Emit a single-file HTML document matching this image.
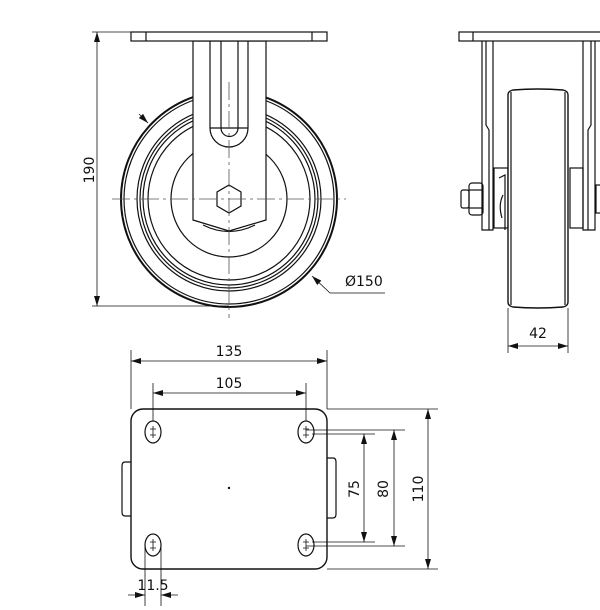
<!DOCTYPE html>
<html><head><style>body{margin:0;background:#fff}svg{display:block}text{font-family:"DejaVu Sans","Liberation Sans",sans-serif;font-size:14px;fill:#111}</style></head>
<body>
<svg width="600" height="610" viewBox="0 0 600 610" xmlns="http://www.w3.org/2000/svg">
<defs>
<marker id="a" viewBox="0 0 10 6" refX="10" refY="3" markerWidth="10" markerHeight="6" orient="auto-start-reverse" markerUnits="userSpaceOnUse"><path d="M0,0L10,3L0,6z" fill="#111"/></marker>
</defs>
<g fill="none" stroke="#111" stroke-width="1.2">
<!-- FRONT VIEW -->
<circle cx="229" cy="199" r="108" stroke-width="2"/>
<circle cx="229" cy="199" r="105"/>
<circle cx="229" cy="199" r="92"/>
<circle cx="229" cy="199" r="89"/>
<circle cx="229" cy="199" r="86"/>
<circle cx="229" cy="199" r="81"/>
<circle cx="229" cy="199" r="58"/>
<path d="M203,225 Q229,238 255,225" />
<path d="M193,41 V220 L229,231 L266,220 V41 Z" fill="#fff"/>
<path d="M210,41 V128 A19,19 0 0 0 248,128 V41"/>
<path d="M221,41 V128 A8.5,8.5 0 0 0 238,128 V41"/>
<line x1="210" y1="128" x2="248" y2="128"/>
<polygon points="229,185 241,192 241,206 229,213 217,206 217,192" fill="#fff"/>
<rect x="131" y="32" width="196" height="9" fill="#fff"/>
<line x1="146" y1="32" x2="146" y2="41"/><line x1="312" y1="32" x2="312" y2="41"/>
<g stroke="#555" stroke-width="0.8" stroke-dasharray="18,4,3,4">
<line x1="112" y1="199" x2="346" y2="199"/>
<line x1="229" y1="82" x2="229" y2="318"/>
</g>
<!-- 190 dim -->
<g stroke-width="0.8">
<line x1="92" y1="32" x2="131" y2="32"/><line x1="92" y1="306" x2="229" y2="306"/>
<line x1="97" y1="32" x2="97" y2="306" marker-start="url(#a)" marker-end="url(#a)"/>
<line x1="139" y1="114" x2="148" y2="123" marker-end="url(#a)"/>
<polyline points="385,293 330,293 312,276" marker-end="url(#a)"/>
</g>
<!-- SIDE VIEW -->
<rect x="459" y="32" width="145" height="9"/>
<line x1="473" y1="32" x2="473" y2="41"/>
<path d="M482,41 V230 H493 V41"/>
<path d="M486,41 V125 L489,130 V230"/>
<path d="M595,41 V230 H583 V41"/>
<path d="M591,41 V125 L588,130 V230"/>
<rect x="494" y="168" width="14" height="60"/>
<rect x="570" y="168" width="13" height="60"/>
<path d="M499,178 L505,175 V230 M503,195 Q498,205 502,218"/>
<rect x="469" y="183" width="14" height="32" rx="3"/>
<line x1="469" y1="190" x2="483" y2="190"/><line x1="469" y1="208" x2="483" y2="208"/>
<rect x="461" y="190" width="8" height="18" rx="2"/>
<rect x="596" y="185" width="8" height="28"/>
<path d="M508,95 Q508,91 513,90 Q538,88 563,90 Q568,91 568,95 V302 Q568,306 563,307 Q538,309 513,307 Q508,306 508,302 Z" fill="#fff" stroke-width="1.4"/>
<line x1="511" y1="92" x2="511" y2="305"/><line x1="565" y1="92" x2="565" y2="305"/>
<g stroke-width="0.8">
<line x1="508" y1="308" x2="508" y2="353"/><line x1="568" y1="308" x2="568" y2="353"/>
<line x1="508" y1="346" x2="568" y2="346" marker-start="url(#a)" marker-end="url(#a)"/>
</g>
<!-- TOP VIEW -->
<path d="M131,462 H125 Q122,462 122,466 V512 Q122,516 125,516 H131"/>
<path d="M327,458 H333 Q336,458 336,462 V514 Q336,518 333,518 H327"/>
<rect x="131" y="409" width="196" height="160" rx="12" fill="#fff" stroke-width="1.4"/>
<ellipse cx="153" cy="432" rx="8" ry="11"/><ellipse cx="306" cy="432" rx="8" ry="11"/>
<ellipse cx="153" cy="545" rx="8" ry="11"/><ellipse cx="306" cy="545" rx="8" ry="11"/>
<g stroke-width="0.8">
<path d="M150,429h6M150,435h6M153,426v12M303,429h6M303,435h6M306,426v12M150,542h6M150,548h6M153,539v12M303,542h6M303,548h6M306,539v12"/>
<line x1="131" y1="350" x2="131" y2="409"/><line x1="327" y1="350" x2="327" y2="409"/>
<line x1="131" y1="361" x2="327" y2="361" marker-start="url(#a)" marker-end="url(#a)"/>
<line x1="153" y1="383" x2="153" y2="421"/><line x1="306" y1="383" x2="306" y2="421"/>
<line x1="153" y1="393" x2="306" y2="393" marker-start="url(#a)" marker-end="url(#a)"/>
<line x1="327" y1="409" x2="438" y2="409"/><line x1="327" y1="569" x2="438" y2="569"/>
<line x1="428" y1="409" x2="428" y2="569" marker-start="url(#a)" marker-end="url(#a)"/>
<line x1="306" y1="430" x2="405" y2="430"/><line x1="306" y1="546" x2="405" y2="546"/>
<line x1="394" y1="430" x2="394" y2="546" marker-start="url(#a)" marker-end="url(#a)"/>
<line x1="312" y1="434" x2="375" y2="434"/><line x1="312" y1="542" x2="375" y2="542"/>
<line x1="364" y1="434" x2="364" y2="542" marker-start="url(#a)" marker-end="url(#a)"/>
<line x1="145" y1="545" x2="145" y2="606"/><line x1="161" y1="545" x2="161" y2="606"/>
<line x1="128" y1="595" x2="145" y2="595" marker-end="url(#a)"/>
<line x1="178" y1="595" x2="161" y2="595" marker-end="url(#a)"/>
</g>
<circle cx="229" cy="488" r="0.6" fill="#111"/>
</g>
<text x="94" y="170" text-anchor="middle" transform="rotate(-90 94 170)">190</text>
<text x="345" y="286">Ø150</text>
<text x="538" y="338" text-anchor="middle">42</text>
<text x="229" y="356" text-anchor="middle">135</text>
<text x="229" y="388" text-anchor="middle">105</text>
<text x="359" y="489" text-anchor="middle" transform="rotate(-90 359 489)">75</text>
<text x="388" y="489" text-anchor="middle" transform="rotate(-90 388 489)">80</text>
<text x="423" y="489" text-anchor="middle" transform="rotate(-90 423 489)">110</text>
<text x="153" y="590" text-anchor="middle">11.5</text>
</svg>
</body></html>
